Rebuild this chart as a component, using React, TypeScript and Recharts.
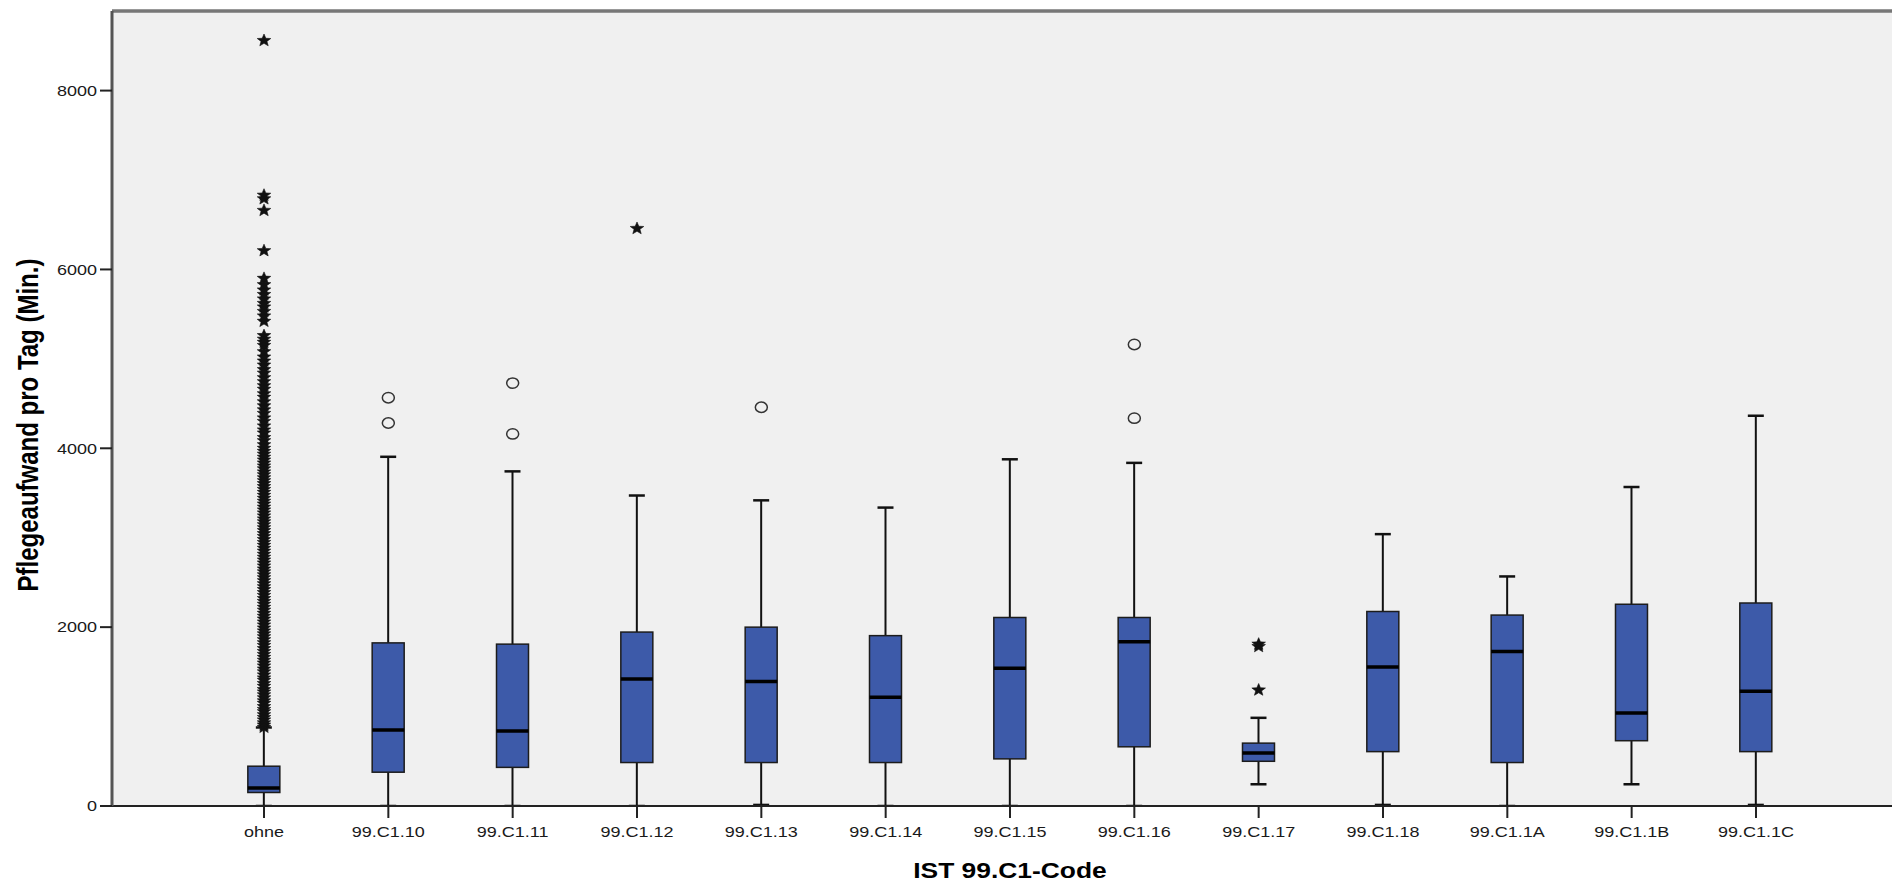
import React from 'react';
import {
  ComposedChart,
  Bar,
  Scatter,
  XAxis,
  YAxis,
  CartesianGrid,
  ReferenceLine,
} from 'recharts';

// ---- data ----
const categories = [
  'ohne', '99.C1.10', '99.C1.11', '99.C1.12', '99.C1.13', '99.C1.14', '99.C1.15',
  '99.C1.16', '99.C1.17', '99.C1.18', '99.C1.1A', '99.C1.1B', '99.C1.1C',
];
const whiskerLow = [0, 0, 0, 0, 12, 0, 0, 0, 243, 12, 0, 243, 12];
const quartile1 = [151, 378, 432, 486, 486, 486, 527, 662, 500, 608, 486, 730, 608];
const medians = [200, 851, 838, 1419, 1392, 1216, 1540, 1837, 594, 1554, 1729, 1040, 1283];
const quartile3 = [445, 1824, 1810, 1945, 2000, 1905, 2108, 2108, 703, 2175, 2135, 2256, 2270];
const whiskerHigh = [878, 3905, 3742, 3472, 3418, 3337, 3877, 3837, 986, 3040, 2567, 3567, 4364];

// extreme values (stars) of the "ohne" group
const ohneExtremes = [
  880, 905, 930, 962, 990, 1021, 1055, 1080, 1112, 1148, 1176, 1210, 1243, 1275, 1302, 1338,
  1370, 1405, 1432, 1466, 1500, 1531, 1566, 1598, 1630, 1662, 1695, 1728, 1760, 1795, 1826,
  1860, 1893, 1925, 1958, 1990, 2024, 2057, 2090, 2122, 2155, 2190, 2222, 2256, 2288, 2320,
  2355, 2387, 2420, 2452, 2486, 2520, 2553, 2585, 2618, 2650, 2684, 2717, 2750, 2782, 2815,
  2850, 2882, 2915, 2947, 2980, 3014, 3046, 3080, 3112, 3145, 3178, 3210, 3244, 3277, 3310,
  3342, 3376, 3408, 3441, 3474, 3507, 3540, 3572, 3605, 3638, 3670, 3704, 3736, 3770, 3802,
  3835, 3868, 3900, 3934, 3966, 4000, 4040, 4085, 4120, 4170, 4205, 4250, 4300, 4340, 4390,
  4430, 4475, 4520, 4570, 4610, 4660, 4700, 4745, 4790, 4840, 4880, 4930, 4975, 5020, 5080,
  5150, 5185, 5220, 5260, 5420, 5480, 5530, 5580, 5620, 5670, 5720, 5770, 5830, 5900, 6210,
  6660, 6790, 6830, 8560,
];

// other outliers: category index, value, kind ('o' = circle, '*' = star)
const outlierCategory = [1, 1, 2, 2, 3, 4, 7, 7, 8, 8, 8];
const outlierValue = [4566, 4283, 4729, 4161, 6458, 4459, 5161, 4337, 1810, 1783, 1297];
const outlierKind = ['o', 'o', 'o', 'o', '*', 'o', 'o', 'o', '*', '*', '*'];

const yTicks = [0, 2000, 4000, 6000, 8000];
const yMax = 8890;
const xDomain = [-1.2226, 13.094];

// ---- tables built from the arrays ----
const rows = categories.map((name, i) => ({
  idx: i,
  name,
  min: whiskerLow[i],
  q1: quartile1[i],
  median: medians[i],
  q3: quartile3[i],
  max: whiskerHigh[i],
  range: [whiskerLow[i], whiskerHigh[i]],
}));

const outlierRows = [
  ...ohneExtremes.map((v) => ({ idx: 0, v, kind: '*' })),
  ...outlierValue.map((v, i) => ({ idx: outlierCategory[i], v, kind: outlierKind[i] })),
];
const tickIdx = categories.map((_, i) => i);

const FONT = "'Liberation Sans', Arial, Helvetica, sans-serif";
const BOX_FILL = '#3D5AA9';

const BoxShape = (props: any) => {
  const { x, y, width, height, payload } = props;
  if (!payload || x == null || y == null) return null;
  const top = Math.min(y, y + height);
  const bottom = Math.max(y, y + height);
  const { min, q1, median, q3, max } = payload;
  const k = (bottom - top) / (max - min);
  const py = (v: number) => bottom - (v - min) * k;
  const cx = x + width / 2;
  const capHalf = width / 4;
  return (
    <g>
      <line x1={cx} x2={cx} y1={py(max)} y2={py(q3)} stroke="#111" strokeWidth={2} />
      <line x1={cx} x2={cx} y1={py(q1)} y2={py(min)} stroke="#111" strokeWidth={2} />
      <line x1={cx - capHalf} x2={cx + capHalf} y1={py(max)} y2={py(max)} stroke="#111" strokeWidth={2.5} />
      <line x1={cx - capHalf} x2={cx + capHalf} y1={py(min)} y2={py(min)} stroke="#111" strokeWidth={2.5} />
      <rect x={x} y={py(q3)} width={width} height={py(q1) - py(q3)} fill={BOX_FILL} stroke="#1c1c1c" strokeWidth={1.5} />
      <line x1={x} x2={x + width} y1={py(median)} y2={py(median)} stroke="#000" strokeWidth={3.5} />
    </g>
  );
};

const starPath = (() => {
  const pts: string[] = [];
  for (let i = 0; i < 10; i++) {
    const r = i % 2 === 0 ? 6.5 : 2.8;
    const a = -Math.PI / 2 + (i * Math.PI) / 5;
    pts.push(`${(r * Math.cos(a) * 1.1).toFixed(2)},${(r * Math.sin(a)).toFixed(2)}`);
  }
  return 'M' + pts.join('L') + 'Z';
})();

const OutlierShape = (props: any) => {
  const { cx, cy, payload } = props;
  if (cx == null || cy == null) return null;
  if (payload && payload.kind === 'o') {
    return <ellipse cx={cx} cy={cy} rx={6} ry={5.2} fill="none" stroke="#333" strokeWidth={1.5} />;
  }
  return <path d={starPath} transform={`translate(${cx},${cy})`} fill="#111" stroke="#111" strokeWidth={0.6} />;
};

const XTick = (props: any) => {
  const { x, y, payload } = props;
  return (
    <g transform={`translate(${x},${y}) scale(1.2,1)`}>
      <text x={0} y={0} dy="0.71em" textAnchor="middle" fontSize={15} fill="#1a1a1a" fontFamily={FONT}>
        {categories[payload.value]}
      </text>
    </g>
  );
};

const YTick = (props: any) => {
  const { x, y, payload } = props;
  return (
    <g transform={`translate(${x},${y}) scale(1.2,1)`}>
      <text x={0} y={0} dy="0.355em" textAnchor="end" fontSize={15} fill="#1a1a1a" fontFamily={FONT}>
        {payload.value}
      </text>
    </g>
  );
};

const XTitle = (props: any) => {
  const vb = props.viewBox || { x: 112, y: 806, width: 1780, height: 80 };
  const cx = vb.x + vb.width / 2 + 8;
  return (
    <text
      transform={`translate(${cx},${vb.y + 72}) scale(1.2,1)`}
      textAnchor="middle"
      fontSize={22}
      fontWeight="bold"
      fill="#000"
      fontFamily={FONT}
    >
      IST 99.C1-Code
    </text>
  );
};

const YTitle = () => (
  <text
    transform="translate(38,425) scale(1.2,1) rotate(-90)"
    textAnchor="middle"
    fontSize={24}
    fontWeight="bold"
    fill="#000"
    fontFamily={FONT}
  >
    Pflegeaufwand pro Tag (Min.)
  </text>
);

export default function App() {
  return (
    <div style={{ position: 'absolute', left: 0, top: 0, width: 1892, height: 886, background: '#fff', overflow: 'hidden' }}>
      <ComposedChart width={1892} height={886} data={rows} margin={{ top: 11, right: 0, bottom: 0, left: 0 }}>
        <CartesianGrid fill="#F0F0F0" fillOpacity={1} horizontal={false} vertical={false} stroke="none" />
        <XAxis
          dataKey="idx"
          type="number"
          domain={xDomain}
          allowDataOverflow
          ticks={tickIdx}
          interval={0}
          tick={<XTick />}
          tickSize={12}
          tickMargin={8}
          tickLine={{ stroke: '#222', strokeWidth: 2 }}
          axisLine={{ stroke: '#222', strokeWidth: 2 }}
          height={80}
          label={<XTitle />}
        />
        <YAxis
          type="number"
          domain={[0, yMax]}
          allowDataOverflow
          ticks={yTicks}
          interval={0}
          width={112}
          tickSize={12}
          tickMargin={3}
          tick={<YTick />}
          tickLine={{ stroke: '#222', strokeWidth: 2 }}
          axisLine={{ stroke: '#555', strokeWidth: 3 }}
          label={<YTitle />}
        />
        <ReferenceLine y={yMax} stroke="#777" strokeWidth={3.5} />
        <Bar dataKey="range" barSize={32} shape={<BoxShape />} isAnimationActive={false} />
        <Scatter data={outlierRows} dataKey="v" shape={<OutlierShape />} isAnimationActive={false} />
      </ComposedChart>
    </div>
  );
}
